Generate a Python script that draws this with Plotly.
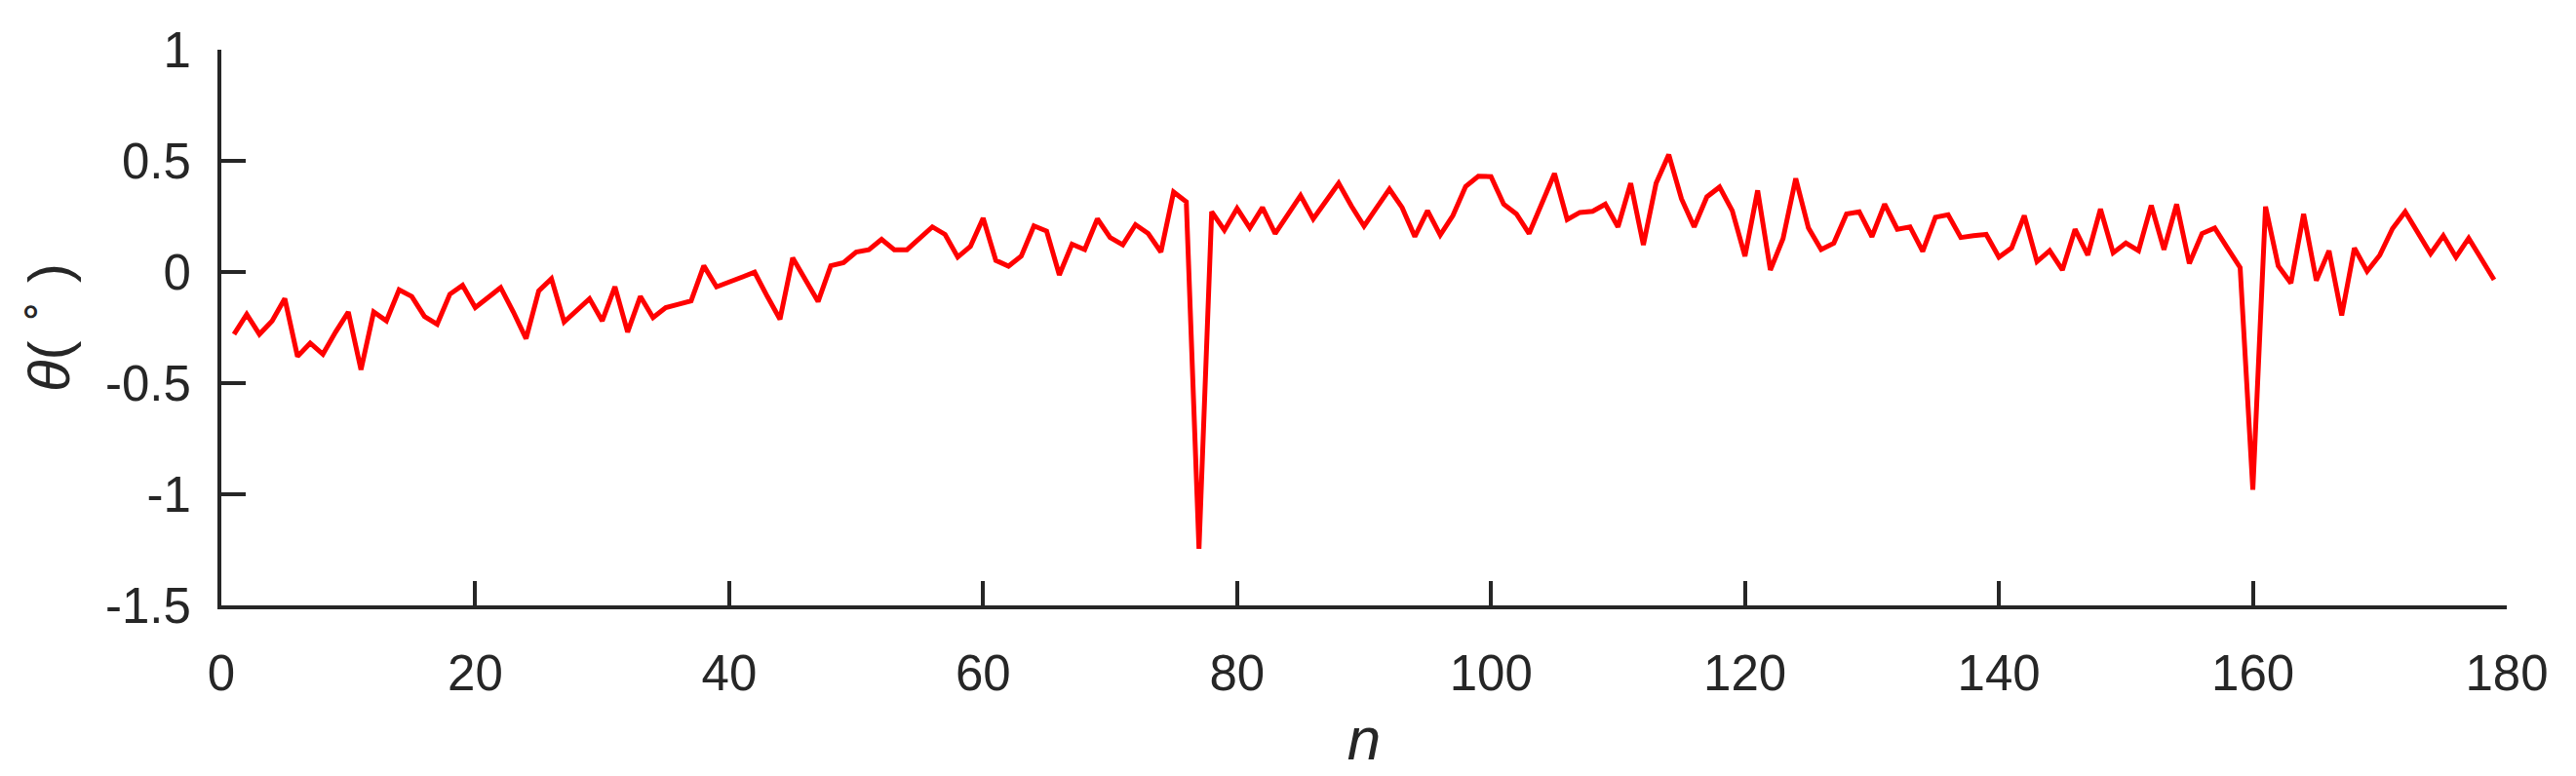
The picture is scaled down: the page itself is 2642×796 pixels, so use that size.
import plotly.graph_objects as go

# theta values (degrees), n = 1..179
theta_1_60 = [
    -0.28, -0.19, -0.28, -0.22, -0.12, -0.38, -0.32, -0.37, -0.27, -0.18,
    -0.44, -0.18, -0.22, -0.08, -0.11, -0.20, -0.235, -0.10, -0.06, -0.16,
    -0.115, -0.07, -0.18, -0.30, -0.085, -0.03, -0.225, -0.17, -0.12, -0.22,
    -0.066, -0.27, -0.11, -0.205, -0.16, -0.145, -0.13, 0.028, -0.067, -0.045,
    -0.022, -0.001, -0.11, -0.213, 0.064, -0.034, -0.133, 0.028, 0.042, 0.09,
    0.10, 0.147, 0.10, 0.10, 0.152, 0.203, 0.169, 0.067, 0.115, 0.242,
]
theta_61_120 = [
    0.052, 0.026, 0.071, 0.207, 0.184, -0.013, 0.125, 0.101, 0.239, 0.155,
    0.122, 0.213, 0.173, 0.09, 0.36, 0.316, -1.245, 0.271, 0.188, 0.286,
    0.198, 0.29, 0.173, 0.261, 0.344, 0.239, 0.319, 0.399, 0.297, 0.206,
    0.29, 0.373, 0.29, 0.159, 0.276, 0.166, 0.254, 0.385, 0.431, 0.429,
    0.305, 0.261, 0.173, 0.312, 0.443, 0.236, 0.268, 0.273, 0.305, 0.203,
    0.399, 0.122, 0.399, 0.528, 0.329, 0.203, 0.338, 0.382, 0.276, 0.071,
]
theta_121_179 = [
    0.367, 0.009, 0.15, 0.421, 0.198, 0.101, 0.13, 0.261, 0.271, 0.159,
    0.305, 0.192, 0.203, 0.093, 0.246, 0.257, 0.155, 0.163, 0.169, 0.067,
    0.108, 0.254, 0.047, 0.096, 0.009, 0.192, 0.076, 0.283, 0.086, 0.13,
    0.096, 0.30, 0.101, 0.305, 0.038, 0.173, 0.198, 0.108, 0.02, -0.98,
    0.294, 0.028, -0.05, 0.261, -0.038, 0.096, -0.195, 0.108, 0.003, 0.076,
    0.195, 0.271, 0.173, 0.082, 0.163, 0.067, 0.152, 0.057, -0.035,
]

theta = theta_1_60 + theta_61_120 + theta_121_179
n = list(range(1, len(theta) + 1))

x_ticks = [0, 20, 40, 60, 80, 100, 120, 140, 160, 180]
y_ticks = [-1.5, -1, -0.5, 0, 0.5, 1]
y_tick_text = ['-1.5', '-1', '-0.5', '0', '0.5', '1']

ink = '#262626'
font_family = 'Arial, "Liberation Sans", Helvetica, sans-serif'

fig = go.Figure()
fig.add_trace(go.Scatter(x=n, y=theta, mode='lines',
                         line=dict(color='#ff0000', width=5),
                         showlegend=False))

fig.update_layout(
    width=2642, height=796,
    margin=dict(l=219, r=79, t=43, b=183),
    paper_bgcolor='white', plot_bgcolor='white',
    font=dict(family=font_family, color=ink, size=50),
)

fig.update_xaxes(
    range=[0, 180], tickvals=x_ticks,
    showline=True, linecolor=ink, linewidth=4,
    ticks='inside', ticklen=25, tickwidth=4, tickcolor=ink,
    showgrid=False, zeroline=False,
    tickfont=dict(size=51, color=ink), ticklabelstandoff=22,
    title=dict(text='<i>n</i>', font=dict(size=62, color=ink), standoff=18),
)
fig.update_yaxes(
    range=[-1.5, 1], tickvals=y_ticks, ticktext=y_tick_text,
    showline=True, linecolor=ink, linewidth=4,
    ticks='inside', ticklen=25, tickwidth=4, tickcolor=ink,
    showgrid=False, zeroline=False,
    tickfont=dict(size=51, color=ink), ticklabelstandoff=17,
    title=dict(text='<i>θ</i>( <sup>∘</sup> )', font=dict(size=60, color=ink), standoff=22),
)

fig.write_html("out.html")
